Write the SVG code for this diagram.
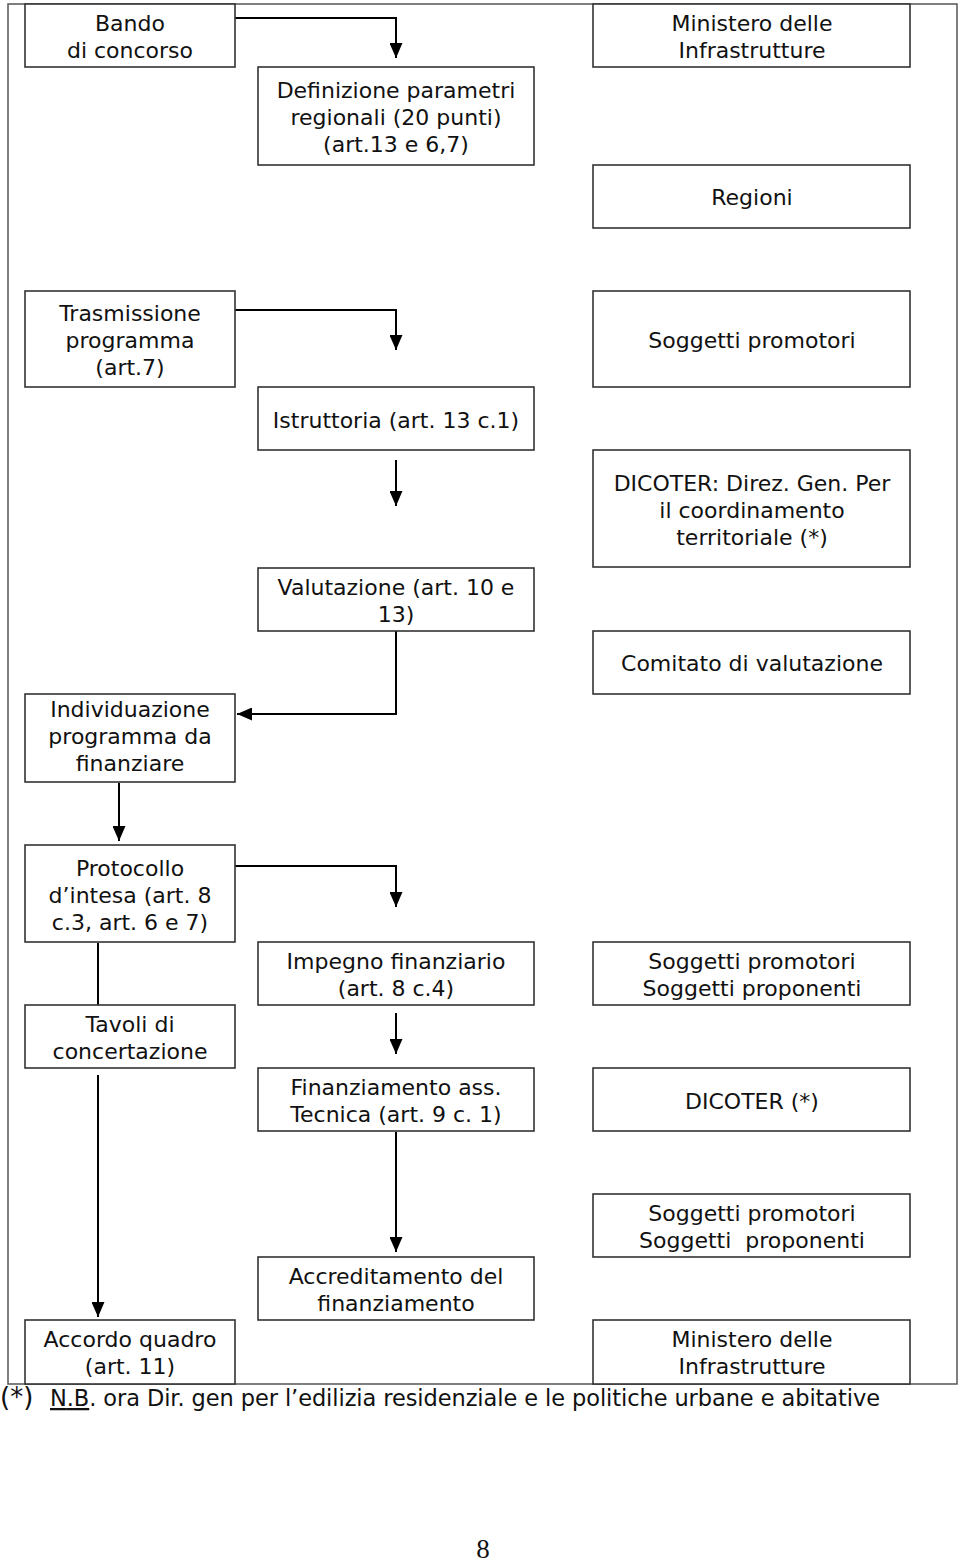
<svg xmlns="http://www.w3.org/2000/svg" width="960" height="1561" viewBox="0 0 960 1561">
<style>
.box{fill:#fff;stroke:#333;stroke-width:1.6}
.frame{fill:none;stroke:#555;stroke-width:1.5}
.t{font-family:"DejaVu Sans","Liberation Sans",sans-serif;font-size:22px;fill:#111;text-anchor:middle}
.c{fill:none;stroke:#000;stroke-width:2}
.fn{font-family:"DejaVu Sans","Liberation Sans",sans-serif;font-size:22.5px;fill:#111}
.pg{font-family:"Liberation Serif",serif;font-size:27px;fill:#111;text-anchor:middle}
</style>
<defs>
<marker id="ah" markerUnits="userSpaceOnUse" markerWidth="15" markerHeight="13" viewBox="0 0 10 10" refX="10" refY="5" orient="auto" preserveAspectRatio="none">
<path d="M0,0 L10,5 L0,10 z" fill="#000"/>
</marker>
</defs>
<rect width="960" height="1561" fill="#fff"/>
<rect class="frame" x="8" y="4" width="949" height="1380"/>
<g id="connectors">
<path class="c" d="M235,18 H396 V58" marker-end="url(#ah)"/>
<path class="c" d="M235,310 H396 V350" marker-end="url(#ah)"/>
<path class="c" d="M396,460 V506" marker-end="url(#ah)"/>
<path class="c" d="M396,631 V714 H237" marker-end="url(#ah)"/>
<path class="c" d="M119,783 V841" marker-end="url(#ah)"/>
<path class="c" d="M235,866 H396 V907" marker-end="url(#ah)"/>
<path class="c" d="M98,943 V1005"/>
<path class="c" d="M98,1075 V1317" marker-end="url(#ah)"/>
<path class="c" d="M396,1013 V1054" marker-end="url(#ah)"/>
<path class="c" d="M396,1132 V1252" marker-end="url(#ah)"/>
</g>
<g id="bando"><rect class="box" x="25" y="4" width="210" height="63"/><text class="t" x="130" y="31">Bando</text><text class="t" x="130" y="58">di concorso</text></g>
<g id="definizione"><rect class="box" x="258" y="67" width="276" height="98"/><text class="t" x="396" y="98">Definizione parametri</text><text class="t" x="396" y="125">regionali (20 punti)</text><text class="t" x="396" y="152">(art.13 e 6,7)</text></g>
<g id="ministero1"><rect class="box" x="593" y="4" width="317" height="63"/><text class="t" x="752" y="31">Ministero delle</text><text class="t" x="752" y="58">Infrastrutture</text></g>
<g id="regioni"><rect class="box" x="593" y="165" width="317" height="63"/><text class="t" x="752" y="205">Regioni</text></g>
<g id="trasmissione"><rect class="box" x="25" y="291" width="210" height="96"/><text class="t" x="130" y="321">Trasmissione</text><text class="t" x="130" y="348">programma</text><text class="t" x="130" y="375">(art.7)</text></g>
<g id="soggetti1"><rect class="box" x="593" y="291" width="317" height="96"/><text class="t" x="752" y="348">Soggetti promotori</text></g>
<g id="istruttoria"><rect class="box" x="258" y="387" width="276" height="63"/><text class="t" x="396" y="428">Istruttoria (art. 13 c.1)</text></g>
<g id="dicoter1"><rect class="box" x="593" y="450" width="317" height="117"/><text class="t" x="752" y="491">DICOTER: Direz. Gen. Per</text><text class="t" x="752" y="518">il coordinamento</text><text class="t" x="752" y="545">territoriale (*)</text></g>
<g id="valutazione"><rect class="box" x="258" y="568" width="276" height="63"/><text class="t" x="396" y="595">Valutazione (art. 10 e</text><text class="t" x="396" y="622">13)</text></g>
<g id="comitato"><rect class="box" x="593" y="631" width="317" height="63"/><text class="t" x="752" y="671">Comitato di valutazione</text></g>
<g id="individuazione"><rect class="box" x="25" y="694" width="210" height="88"/><text class="t" x="130" y="717">Individuazione</text><text class="t" x="130" y="744">programma da</text><text class="t" x="130" y="771">finanziare</text></g>
<g id="protocollo"><rect class="box" x="25" y="845" width="210" height="97"/><text class="t" x="130" y="876">Protocollo</text><text class="t" x="130" y="903">d’intesa (art. 8</text><text class="t" x="130" y="930">c.3, art. 6 e 7)</text></g>
<g id="impegno"><rect class="box" x="258" y="942" width="276" height="63"/><text class="t" x="396" y="969">Impegno finanziario</text><text class="t" x="396" y="996">(art. 8 c.4)</text></g>
<g id="soggetti2"><rect class="box" x="593" y="942" width="317" height="63"/><text class="t" x="752" y="969">Soggetti promotori</text><text class="t" x="752" y="996">Soggetti proponenti</text></g>
<g id="tavoli"><rect class="box" x="25" y="1005" width="210" height="63"/><text class="t" x="130" y="1032">Tavoli di</text><text class="t" x="130" y="1059">concertazione</text></g>
<g id="finanziamento"><rect class="box" x="258" y="1068" width="276" height="63"/><text class="t" x="396" y="1095">Finanziamento ass.</text><text class="t" x="396" y="1122">Tecnica (art. 9 c. 1)</text></g>
<g id="dicoter2"><rect class="box" x="593" y="1068" width="317" height="63"/><text class="t" x="752" y="1109">DICOTER (*)</text></g>
<g id="soggetti3"><rect class="box" x="593" y="1194" width="317" height="63"/><text class="t" x="752" y="1221">Soggetti promotori</text><text class="t" x="752" y="1248" xml:space="preserve">Soggetti  proponenti</text></g>
<g id="accreditamento"><rect class="box" x="258" y="1257" width="276" height="63"/><text class="t" x="396" y="1284">Accreditamento del</text><text class="t" x="396" y="1311">finanziamento</text></g>
<g id="accordo"><rect class="box" x="25" y="1320" width="210" height="64"/><text class="t" x="130" y="1347">Accordo quadro</text><text class="t" x="130" y="1374">(art. 11)</text></g>
<g id="ministero2"><rect class="box" x="593" y="1320" width="317" height="64"/><text class="t" x="752" y="1347">Ministero delle</text><text class="t" x="752" y="1374">Infrastrutture</text></g>
<text class="fn" x="0" y="1406" style="font-size:26px">(*)</text>
<text class="fn" x="50" y="1406" textLength="830"><tspan text-decoration="underline">N.B</tspan>. ora Dir. gen per l’edilizia residenziale e le politiche urbane e abitative</text>
<text class="pg" x="483" y="1558">8</text>
</svg>
